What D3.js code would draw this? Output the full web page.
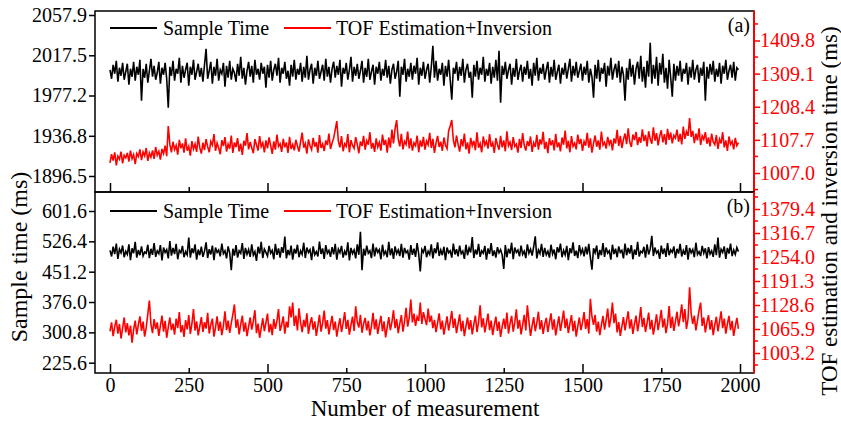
<!DOCTYPE html>
<html>
<head>
<meta charset="utf-8">
<script src="https://cdn.jsdelivr.net/npm/d3@7/dist/d3.min.js"></script>
<style>
body { margin: 0; background: #fff; }
text { font-family: "Liberation Serif", "Times New Roman", serif; }
</style>
</head>
<body>
<script>
// one sample read every 5 measurements
var measurement = d3.range(0, 2000, 5);

// panel (a) sample time, ms (left axis)
var sampleTimeA = [
  2003, 1994, 2008, 1999, 2012, 1991, 2005, 1997, 2010, 1993, 2001, 2009, 1988, 2004, 1996, 2011, 1992, 2006, 1998, 2013,
  1972, 2004, 1995, 2009, 1990, 2002, 2014, 1996, 2007, 1993, 2000, 2011, 1989, 2005, 1998, 2010, 1994, 1965, 2006, 1997,
  2012, 1992, 2004, 1999, 2015, 1990, 2007, 1995, 2003, 2010, 1987, 2006, 1998, 2013, 1993, 2001, 2009, 1996, 2005, 1991,
  2008, 2024, 1994, 2002, 2011, 1989, 2006, 1997, 2014, 1992, 2003, 1999, 2010, 1986, 2007, 1995, 2012, 1993, 2004, 2000,
  1991, 2009, 1997, 2016, 1994, 2005, 1988, 2002, 2011, 1996, 2007, 1990, 2013, 1998, 2004, 1993, 2010, 1999, 2006, 1985,
  2008, 1995, 2012, 1992, 2003, 2009, 1997, 2015, 1990, 2005, 1999, 2011, 1994, 2002, 1987, 2008, 1996, 2013, 1993, 2004,
  1998, 2010, 1991, 2006, 1995, 2017, 1993, 2003, 2009, 1989, 2005, 1997, 2012, 1994, 2001, 2008, 1992, 2014, 1996, 2006,
  1990, 2004, 2011, 1995, 2007, 1998, 2013, 1986, 2005, 1999, 2010, 1993, 2003, 2016, 1991, 2006, 1997, 2009, 1994, 2002,
  2012, 1990, 2005, 1996, 2014, 1993, 2001, 2008, 1988, 2006, 1999, 2011, 1992, 2004, 1997, 2013, 1995, 2007, 1989, 2003,
  2009, 1994, 2001, 2012, 1976, 2006, 1998, 2014, 1991, 2004, 1996, 2010, 1993, 2007, 1999, 2015, 1988, 2005, 1997, 2011,
  1994, 2003, 2009, 1990, 2006, 2027, 1995, 2012, 1992, 2004, 1998, 2010, 1987, 2007, 1996, 2013, 1993, 1973, 2005, 1999,
  2011, 1992, 2006, 1997, 2014, 1990, 2003, 2009, 1995, 2001, 1975, 2008, 1996, 2012, 1993, 2005, 1998, 2016, 1991, 2004,
  1997, 2010, 1989, 2006, 1995, 2013, 1992, 2022, 1970, 2007, 1998, 2011, 1994, 2003, 2009, 1988, 2005, 1996, 2014, 1993,
  2002, 2008, 1991, 2006, 1998, 2012, 1994, 2004, 1987, 2010, 1997, 2015, 1992, 2005, 1999, 2009, 1993, 2003, 2011, 1990,
  2006, 1996, 2013, 1993, 2001, 2008, 1989, 2005, 1998, 2010, 1994, 2004, 2014, 1991, 2007, 1997, 2011, 1995, 2002, 2009,
  1992, 2006, 1998, 2012, 1990, 2004, 1996, 1975, 2008, 1994, 2013, 1991, 2005, 1999, 2010, 1986, 2007, 1997, 2015, 1993,
  2003, 2009, 1995, 2012, 1990, 2006, 1998, 1972, 2005, 1993, 2014, 1996, 2008, 1988, 2004, 2011, 1994, 2017, 1991, 2006,
  1985, 2012, 1996, 2030, 1989, 2008, 1994, 2016, 1987, 2010, 1998, 2019, 1990, 2005, 1984, 2013, 1995, 1976, 2009, 1992,
  2007, 1997, 2012, 1991, 2004, 1999, 2010, 1988, 2006, 1995, 2013, 1993, 2003, 2008, 1990, 2005, 1997, 2011, 1972, 2006,
  1994, 2009, 1998, 2012, 1991, 2004, 1996, 2010, 1989, 2007, 1999, 2013, 1993, 2002, 2008, 1995, 2011, 1992, 2005, 2003
];

// panel (a) TOF estimation + inversion, ms (right axis)
var tofA = [
  1038, 1064, 1045, 1070, 1030, 1058, 1049, 1072, 1036, 1061, 1053, 1068, 1042, 1075, 1050, 1063, 1034, 1066, 1057, 1079,
  1046, 1071, 1059, 1083, 1044, 1068, 1055, 1076, 1050, 1086, 1061, 1073, 1048, 1080, 1066, 1090, 1058, 1150, 1094, 1070,
  1102, 1078, 1091, 1063, 1108, 1082, 1097, 1069, 1112, 1075, 1088, 1060, 1104, 1080, 1095, 1071, 1118, 1084, 1066, 1099,
  1077, 1110, 1087, 1070, 1103, 1092, 1125, 1074, 1098, 1083, 1064, 1107, 1089, 1116, 1072, 1095, 1081, 1121, 1068, 1100,
  1086, 1113, 1073, 1096, 1062, 1105, 1090, 1128, 1079, 1101, 1084, 1067, 1110, 1093, 1075, 1119, 1087, 1099, 1070, 1106,
  1082, 1115, 1091, 1065, 1103, 1078, 1124, 1088, 1096, 1071, 1111, 1085, 1100, 1068, 1117, 1080, 1094, 1076, 1108, 1089,
  1072, 1102, 1130, 1084, 1097, 1066, 1109, 1090, 1078, 1114, 1087, 1101, 1069, 1122, 1083, 1095, 1074, 1106, 1092, 1127,
  1080, 1098, 1113, 1138, 1165, 1104, 1085, 1119, 1073, 1096, 1088, 1125, 1070, 1107, 1091, 1082, 1116, 1094, 1067, 1103,
  1089, 1120, 1078, 1105, 1093, 1131, 1081, 1098, 1071, 1112, 1086, 1100, 1075, 1124, 1092, 1108, 1069, 1115, 1084, 1139,
  1097, 1142, 1168, 1110, 1088, 1126, 1079, 1103, 1094, 1133, 1082, 1112, 1075, 1099, 1090, 1121, 1070, 1106, 1087, 1117,
  1078, 1104, 1093, 1129, 1083, 1111, 1068, 1098, 1120, 1086, 1102, 1074, 1115, 1091, 1081, 1135, 1150, 1168, 1107, 1085,
  1121, 1094, 1072, 1110, 1088, 1127, 1079, 1100, 1066, 1114, 1090, 1105, 1076, 1131, 1084, 1097, 1070, 1118, 1092, 1103,
  1081, 1125, 1087, 1099, 1068, 1113, 1093, 1078, 1120, 1085, 1106, 1073, 1134, 1090, 1101, 1077, 1116, 1088, 1095, 1069,
  1111, 1083, 1128, 1092, 1075, 1104, 1089, 1118, 1071, 1099, 1086, 1123, 1078, 1109, 1094, 1132, 1080, 1102, 1067, 1113,
  1091, 1107, 1076, 1126, 1085, 1100, 1073, 1115, 1093, 1136, 1082, 1105, 1070, 1119, 1088, 1098, 1079, 1124, 1095, 1110,
  1074, 1103, 1090, 1129, 1084, 1112, 1069, 1097, 1121, 1087, 1106, 1078, 1133, 1092, 1100, 1081, 1117, 1094, 1108, 1076,
  1112, 1097, 1138, 1089, 1120, 1083, 1109, 1127, 1095, 1143, 1101, 1086, 1124, 1107, 1132, 1092, 1116, 1099, 1140, 1104,
  1123, 1088, 1134, 1110, 1096, 1146, 1105, 1128, 1091, 1119, 1137, 1100, 1125, 1093, 1141, 1108, 1130, 1097, 1121, 1113,
  1139, 1102, 1126, 1094, 1148, 1111, 1133, 1120, 1174, 1117, 1135, 1098, 1127, 1106, 1143, 1092, 1120, 1109, 1131, 1096,
  1115, 1088, 1127, 1101, 1093, 1122, 1080, 1110, 1097, 1131, 1085, 1106, 1074, 1118, 1094, 1103, 1079, 1114, 1090, 1099
];

// panel (b) sample time, ms (left axis)
var sampleTimeB = [
  504, 489, 513, 495, 521, 483, 507, 498, 516, 487, 502, 494, 519, 480, 509, 497, 525, 486, 505, 492,
  514, 490, 500, 497, 518, 485, 508, 493, 522, 488, 503, 496, 517, 479, 511, 499, 506, 484, 527, 491,
  510, 495, 520, 482, 504, 498, 515, 487, 501, 493, 536, 486, 509, 497, 519, 481, 506, 492, 513, 488,
  502, 524, 485, 507, 494, 516, 480, 511, 499, 505, 489, 521, 496, 503, 484, 514, 498, 455, 508, 491,
  517, 486, 503, 497, 522, 483, 510, 494, 506, 488, 519, 492, 501, 478, 513, 496, 525, 485, 507, 499,
  490, 515, 497, 504, 482, 520, 493, 509, 486, 512, 498, 538, 484, 505, 492, 516, 481, 508, 496, 518,
  487, 503, 494, 523, 485, 511, 499, 506, 480, 514, 493, 501, 489, 526, 495, 509, 483, 517, 497, 504,
  488, 512, 494, 520, 481, 507, 498, 515, 486, 502, 492, 524, 479, 510, 496, 505, 484, 519, 493, 550,
  455, 508, 491, 516, 497, 503, 485, 521, 489, 511, 499, 506, 482, 518, 494, 502, 487, 525, 492, 509,
  483, 514, 496, 505, 490, 520, 486, 510, 498, 503, 481, 517, 493, 508, 488, 522, 495, 452, 506, 499,
  515, 487, 502, 494, 519, 484, 509, 497, 524, 490, 505, 492, 513, 480, 511, 498, 503, 486, 521, 494,
  507, 489, 516, 496, 502, 483, 518, 492, 510, 499, 537, 485, 506, 494, 520, 488, 503, 497, 515, 481,
  509, 495, 522, 490, 504, 486, 512, 498, 506, 493, 458, 517, 487, 508, 496, 523, 482, 511, 499, 505,
  489, 516, 494, 502, 485, 519, 497, 507, 491, 513, 539, 484, 505, 496, 520, 488, 510, 493, 502, 486,
  518, 495, 506, 482, 512, 499, 521, 487, 504, 493, 515, 480, 509, 497, 524, 490, 503, 485, 517, 496,
  507, 489, 513, 494, 520, 486, 456, 509, 498, 516, 483, 505, 492, 522, 488, 511, 497, 503, 481, 518,
  495, 508, 487, 514, 499, 504, 484, 521, 492, 510, 496, 517, 482, 506, 493, 525, 489, 502, 498, 513,
  486, 519, 494, 507, 540, 490, 511, 497, 503, 483, 516, 495, 509, 488, 522, 492, 505, 499, 514, 485,
  508, 496, 520, 489, 504, 493, 517, 481, 510, 498, 506, 487, 523, 494, 501, 490, 515, 497, 509, 484,
  512, 495, 503, 488, 519, 492, 536, 486, 507, 499, 514, 483, 510, 496, 521, 490, 505, 494, 511, 501
];

// panel (b) TOF estimation + inversion, ms (right axis)
var tofB = [
  1060, 1083, 1047, 1072, 1090, 1054, 1079, 1041, 1068, 1096, 1057, 1081, 1049, 1075, 1030, 1064, 1088, 1052, 1077, 1099,
  1061, 1085, 1046, 1070, 1105, 1140, 1078, 1055, 1092, 1066, 1083, 1048, 1074, 1101, 1059, 1087, 1043, 1071, 1096, 1063,
  1080, 1051, 1093, 1068, 1110, 1057, 1076, 1045, 1089, 1065, 1102, 1053, 1079, 1118, 1062, 1086, 1049, 1073, 1097, 1058,
  1084, 1067, 1108, 1054, 1077, 1093, 1046, 1070, 1099, 1061, 1085, 1050, 1075, 1112, 1063, 1088, 1056, 1081, 1104, 1130,
  1069, 1091, 1052, 1078, 1101, 1059, 1083, 1047, 1072, 1096, 1064, 1087, 1115, 1055, 1080, 1043, 1068, 1094, 1060, 1082,
  1106, 1057, 1079, 1050, 1092, 1066, 1088, 1118, 1061, 1077, 1099, 1054, 1085, 1070, 1125, 1096, 1135, 1074, 1101, 1062,
  1120, 1083, 1058, 1090, 1071, 1107, 1053, 1079, 1097, 1064, 1086, 1048, 1075, 1103, 1059, 1082, 1114, 1067, 1089, 1052,
  1078, 1100, 1063, 1085, 1046, 1072, 1094, 1058, 1081, 1110, 1066, 1090, 1051, 1077, 1098, 1061, 1125, 1084, 1070, 1103,
  1056, 1080, 1095, 1062, 1087, 1049, 1073, 1108, 1065, 1091, 1053, 1078, 1100, 1060, 1086, 1044, 1071, 1097, 1063, 1084,
  1115, 1068, 1092, 1055, 1080, 1102, 1059, 1086, 1121, 1072, 1095, 1143, 1083, 1106, 1074, 1098, 1087, 1135, 1079, 1110,
  1092, 1076, 1119, 1084, 1101, 1068, 1090, 1058, 1082, 1107, 1065, 1088, 1051, 1075, 1099, 1062, 1085, 1113, 1069, 1093,
  1055, 1079, 1104, 1060, 1087, 1047, 1073, 1096, 1064, 1089, 1052, 1078, 1101, 1058, 1084, 1128, 1070, 1094, 1057, 1081,
  1106, 1063, 1088, 1050, 1076, 1098, 1061, 1085, 1045, 1072, 1093, 1066, 1109, 1054, 1080, 1100, 1059, 1083, 1117, 1067,
  1090, 1052, 1077, 1103, 1062, 1128, 1086, 1048, 1074, 1097, 1060, 1082, 1111, 1065, 1089, 1053, 1078, 1095, 1058, 1084,
  1107, 1064, 1091, 1049, 1075, 1099, 1061, 1086, 1114, 1068, 1093, 1055, 1080, 1102, 1060, 1087, 1046, 1073, 1096, 1063,
  1083, 1110, 1066, 1092, 1054, 1145, 1098, 1077, 1103, 1059, 1085, 1050, 1076, 1100, 1064, 1089, 1119, 1070, 1094, 1135,
  1081, 1106, 1057, 1084, 1048, 1072, 1097, 1062, 1088, 1112, 1067, 1091, 1053, 1079, 1101, 1060, 1086, 1123, 1071, 1095,
  1058, 1082, 1109, 1065, 1090, 1051, 1077, 1104, 1063, 1087, 1116, 1070, 1093, 1055, 1080, 1126, 1068, 1098, 1061, 1085,
  1111, 1073, 1097, 1130, 1084, 1118, 1066, 1092, 1175, 1105, 1079, 1101, 1062, 1088, 1115, 1135, 1074, 1096, 1057, 1083,
  1102, 1064, 1089, 1050, 1077, 1098, 1060, 1085, 1112, 1068, 1093, 1054, 1079, 1100, 1063, 1087, 1048, 1073, 1095, 1066
];

// tick labels
var xTicks = [0, 250, 500, 750, 1000, 1250, 1500, 1750, 2000];
var leftTicksA = [1896.5, 1936.8, 1977.2, 2017.5, 2057.9];
var rightTicksA = [1007.0, 1107.7, 1208.4, 1309.1, 1409.8];
var leftTicksB = [225.6, 300.8, 376.0, 451.2, 526.4, 601.6];
var rightTicksB = [1003.2, 1065.9, 1128.6, 1191.3, 1254.0, 1316.7, 1379.4];

var width = 841;
var height = 421;
var frameLeft = 95, frameRight = 754;
var red = "#ff0000";

var svg = d3.select("body")
    .append("svg")
    .attr("width", width)
    .attr("height", height);

var x = d3.scaleLinear().domain([0, 2000]).range([110, 740]);

var panels = [
    {
        top: 11, bottom: 192, tag: "(a)", legendY: 28,
        yL: d3.scaleLinear().domain([1896.5, 2057.9]).range([176, 15]),
        yR: d3.scaleLinear().domain([1007.0, 1409.8]).range([173, 40.5]),
        left: sampleTimeA, right: tofA, lTicks: leftTicksA, rTicks: rightTicksA, labels: false
    },
    {
        top: 192, bottom: 373, tag: "(b)", legendY: 211,
        yL: d3.scaleLinear().domain([225.6, 601.6]).range([362.7, 211]),
        yR: d3.scaleLinear().domain([1003.2, 1379.4]).range([353, 209]),
        left: sampleTimeB, right: tofB, lTicks: leftTicksB, rTicks: rightTicksB, labels: true
    }
];

panels.forEach(function(p) {
    var g = svg.append("g");

    // data lines
    var lineL = d3.line()
        .x(function(d, i) { return x(measurement[i]); })
        .y(function(d) { return p.yL(d); });
    var lineR = d3.line()
        .x(function(d, i) { return x(measurement[i]); })
        .y(function(d) { return p.yR(d); });

    g.append("path").datum(p.left)
        .attr("d", lineL)
        .attr("fill", "none")
        .attr("stroke", "#000")
        .attr("stroke-width", 1.6)
        .attr("stroke-linejoin", "miter");
    g.append("path").datum(p.right)
        .attr("d", lineR)
        .attr("fill", "none")
        .attr("stroke", red)
        .attr("stroke-width", 1.6)
        .attr("stroke-linejoin", "miter");

    // frame
    g.append("rect")
        .attr("x", frameLeft)
        .attr("y", p.top)
        .attr("width", frameRight - frameLeft)
        .attr("height", p.bottom - p.top)
        .attr("fill", "none")
        .attr("stroke", "#000")
        .attr("stroke-width", 1.5);

    // bottom axis, ticks pointing inward
    var xAxis = d3.axisBottom(x)
        .tickValues(xTicks)
        .tickSizeInner(-5)
        .tickSizeOuter(0)
        .tickPadding(5)
        .tickFormat(p.labels ? d3.format("d") : "");
    var gx = g.append("g")
        .attr("transform", "translate(0," + p.bottom + ")")
        .call(xAxis);
    gx.select(".domain").remove();
    gx.selectAll(".tick line")
        .attr("y2", function(d) { return d % 500 === 0 ? -9 : -5; })
        .attr("stroke-width", 1.5);
    gx.selectAll("text").attr("font-size", 20).attr("font-family", "Liberation Serif");

    // left axis
    var gl = g.append("g")
        .attr("transform", "translate(" + frameLeft + ",0)")
        .call(d3.axisLeft(p.yL).tickValues(p.lTicks).tickSize(6).tickPadding(2).tickFormat(d3.format(".1f")));
    gl.select(".domain").remove();
    gl.selectAll(".tick line").attr("stroke-width", 1.5);
    gl.selectAll("text").attr("font-size", 20).attr("font-family", "Liberation Serif");

    // right axis in red, with minor ticks
    var step = p.rTicks[1] - p.rTicks[0];
    var minor = [];
    for (var k = -1; k < p.rTicks.length; k++) {
        var v = p.rTicks[0] + (k + 0.5) * step;
        var py = p.yR(v);
        if (py > p.top + 2 && py < p.bottom - 1) minor.push(v);
    }
    var gr = g.append("g")
        .attr("transform", "translate(" + frameRight + ",0)");
    gr.append("line")
        .attr("y1", p.top).attr("y2", p.bottom)
        .attr("stroke", red).attr("stroke-width", 2);
    gr.selectAll(".minor").data(minor).enter()
        .append("line")
        .attr("x1", 0).attr("x2", 4)
        .attr("y1", function(d) { return p.yR(d); })
        .attr("y2", function(d) { return p.yR(d); })
        .attr("stroke", red).attr("stroke-width", 1.5);
    var rAxis = gr.append("g")
        .call(d3.axisRight(p.yR).tickValues(p.rTicks).tickSize(6).tickPadding(0).tickFormat(d3.format(".1f")));
    rAxis.select(".domain").remove();
    rAxis.selectAll(".tick line").attr("stroke", red).attr("stroke-width", 1.5);
    rAxis.selectAll("text").attr("fill", red).attr("font-size", 20).attr("font-family", "Liberation Serif");

    // legend
    var ly = p.legendY;
    g.append("line").attr("x1", 110).attr("x2", 157).attr("y1", ly).attr("y2", ly)
        .attr("stroke", "#000").attr("stroke-width", 2);
    g.append("text").attr("x", 163).attr("y", ly + 7).attr("font-size", 20).text("Sample Time");
    g.append("line").attr("x1", 284).attr("x2", 331).attr("y1", ly).attr("y2", ly)
        .attr("stroke", red).attr("stroke-width", 2);
    g.append("text").attr("x", 336).attr("y", ly + 7).attr("font-size", 20).text("TOF Estimation+Inversion");

    // panel tag
    g.append("text")
        .attr("x", 750).attr("y", p.top + 21)
        .attr("text-anchor", "end")
        .attr("font-size", 20)
        .text(p.tag);
});

// axis titles
svg.append("text")
    .attr("transform", "translate(27,257) rotate(-90)")
    .attr("text-anchor", "middle")
    .attr("font-size", 24)
    .text("Sample time (ms)");

svg.append("text")
    .attr("transform", "translate(836.5,211) rotate(-90)")
    .attr("text-anchor", "middle")
    .attr("font-size", 23)
    .text("TOF estimation and inversion time (ms)");

svg.append("text")
    .attr("x", 425)
    .attr("y", 416)
    .attr("text-anchor", "middle")
    .attr("font-size", 23)
    .text("Number of measurement");
</script>
</body>
</html>
